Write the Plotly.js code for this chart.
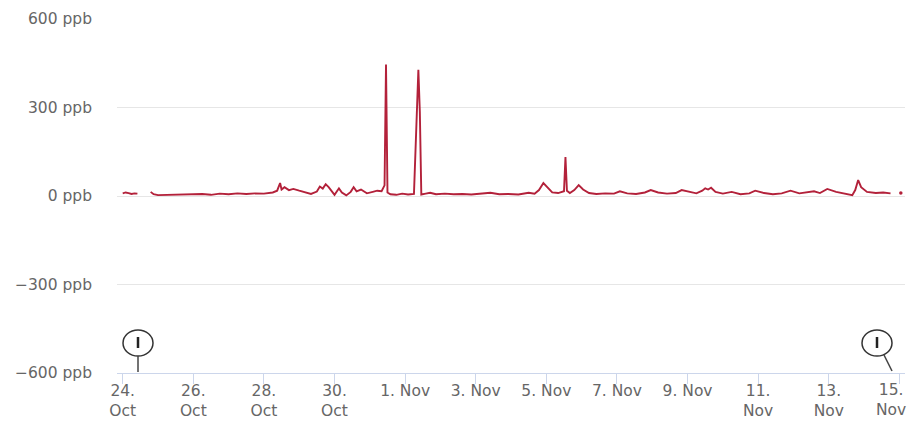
<!DOCTYPE html>
<html>
<head>
<meta charset="utf-8">
<script src="https://cdn.plot.ly/plotly-3.0.1.min.js"></script>
<style>html,body{margin:0;padding:0;background:#fff;}#chart{width:910px;height:421px;}</style>
</head>
<body>
<div id="chart"></div>
<script>
const times = [
"2018-10-24 00:00","2018-10-24 02:00","2018-10-24 04:00","2018-10-24 06:00","2018-10-24 08:00","2018-10-24 10:00",
"2018-10-24 14:00",
"2018-10-24 19:00","2018-10-24 21:00","2018-10-25 00:00","2018-10-25 06:00","2018-10-25 12:00","2018-10-25 18:00",
"2018-10-26 00:00","2018-10-26 06:00","2018-10-26 12:00","2018-10-26 18:00",
"2018-10-27 00:00","2018-10-27 06:00","2018-10-27 12:00","2018-10-27 18:00",
"2018-10-28 00:00","2018-10-28 06:00","2018-10-28 09:00","2018-10-28 11:00","2018-10-28 12:00","2018-10-28 14:00","2018-10-28 17:00","2018-10-28 20:00",
"2018-10-29 00:00","2018-10-29 04:00","2018-10-29 08:00","2018-10-29 12:00","2018-10-29 14:00","2018-10-29 16:00","2018-10-29 18:00","2018-10-29 20:00","2018-10-29 22:00",
"2018-10-30 00:00","2018-10-30 03:00","2018-10-30 05:00","2018-10-30 08:00","2018-10-30 11:00","2018-10-30 13:00","2018-10-30 15:00","2018-10-30 18:00","2018-10-30 22:00",
"2018-10-31 02:00","2018-10-31 05:00","2018-10-31 08:00","2018-10-31 10:00","2018-10-31 11:00","2018-10-31 12:00","2018-10-31 14:00","2018-10-31 18:00","2018-10-31 22:00",
"2018-11-01 02:00","2018-11-01 06:00","2018-11-01 09:00","2018-11-01 10:00","2018-11-01 11:00","2018-11-01 14:00","2018-11-01 17:00","2018-11-01 21:00",
"2018-11-02 03:00","2018-11-02 09:00","2018-11-02 15:00","2018-11-02 21:00",
"2018-11-03 04:00","2018-11-03 10:00","2018-11-03 16:00","2018-11-03 22:00",
"2018-11-04 05:00","2018-11-04 12:00","2018-11-04 16:00","2018-11-04 19:00","2018-11-04 22:00",
"2018-11-05 01:00","2018-11-05 04:00","2018-11-05 08:00","2018-11-05 12:00","2018-11-05 13:00","2018-11-05 14:00","2018-11-05 16:00","2018-11-05 19:00","2018-11-05 22:00",
"2018-11-06 01:00","2018-11-06 05:00","2018-11-06 10:00","2018-11-06 16:00","2018-11-06 22:00",
"2018-11-07 02:00","2018-11-07 07:00","2018-11-07 13:00","2018-11-07 19:00","2018-11-07 23:00",
"2018-11-08 04:00","2018-11-08 10:00","2018-11-08 16:00","2018-11-08 20:00",
"2018-11-09 01:00","2018-11-09 06:00","2018-11-09 10:00","2018-11-09 12:00","2018-11-09 14:00","2018-11-09 16:00","2018-11-09 19:00",
"2018-11-10 00:00","2018-11-10 06:00","2018-11-10 12:00","2018-11-10 18:00","2018-11-10 22:00",
"2018-11-11 04:00","2018-11-11 10:00","2018-11-11 16:00","2018-11-11 22:00",
"2018-11-12 04:00","2018-11-12 09:00","2018-11-12 14:00","2018-11-12 18:00","2018-11-12 23:00",
"2018-11-13 05:00","2018-11-13 11:00","2018-11-13 16:00","2018-11-13 18:00","2018-11-13 20:00","2018-11-13 22:00",
"2018-11-14 02:00","2018-11-14 08:00","2018-11-14 13:00","2018-11-14 18:00"
];
const ppb = [
9,12,10,7,9,8,
null,
14,6,3,4,3,6,
5,7,4,8,
6,9,7,9,
8,12,18,44,22,30,20,24,
18,12,7,15,32,25,40,30,18,
4,26,12,2,14,30,16,22,9,
14,18,16,36,446,12,6,4,8,
5,7,428,285,5,8,11,6,
8,6,7,5,
8,11,6,7,
5,11,8,20,44,
28,12,10,16,132,18,10,20,37,
22,10,7,9,8,
16,9,7,12,20,
12,8,10,20,
14,9,18,26,22,28,14,
8,14,6,9,18,
10,6,9,18,
9,12,16,10,24,
14,8,3,20,54,30,
14,10,12,9
];
const dotTimes = ["2018-11-15 01:00"];
const dotPpb = [10];

const yTickVals = [-600, -300, 0, 300, 600];
const yTickText = ["\u2212600 ppb", "\u2212300 ppb", "0 ppb", "300 ppb", "600 ppb"];
const xTickVals = ["2018-10-24","2018-10-26","2018-10-28","2018-10-30","2018-11-01","2018-11-03","2018-11-05","2018-11-07","2018-11-09","2018-11-11","2018-11-13","2018-11-15"];
const xTickText = ["24.<br>Oct","26.<br>Oct","28.<br>Oct","30.<br>Oct","1. Nov","3. Nov","5. Nov","7. Nov","9. Nov","11.<br>Nov","13.<br>Nov","15.<br>Nov"];

const L = 117, R = 905, T = 19, B = 373;
const px = x => (x - L) / (R - L);
const py = y => (B - y) / (B - T);

const handleColor = '#333333';
function handle(cx, cy, stem) {
  return [
    {type:'circle', xref:'paper', yref:'paper', x0:px(cx-15), x1:px(cx+15), y0:py(cy+13), y1:py(cy-13),
     line:{color:handleColor, width:1.5}, fillcolor:'#ffffff', layer:'above'},
    {type:'line', xref:'paper', yref:'paper', x0:px(cx), x1:px(cx), y0:py(cy+5), y1:py(cy-6),
     line:{color:'#222', width:2.5}, layer:'above'},
    {type:'line', xref:'paper', yref:'paper', x0:px(stem[0]), x1:px(stem[2]), y0:py(stem[1]), y1:py(stem[3]),
     line:{color:'#444', width:1.5}, layer:'above'}
  ];
}

const traces = [
  {x: times, y: ppb, type:'scatter', mode:'lines', connectgaps:false,
   line:{color:'#b3213a', width:1.9}, hoverinfo:'x+y'},
  {x: dotTimes, y: dotPpb, type:'scatter', mode:'markers',
   marker:{color:'#b3213a', size:3.5}, hoverinfo:'x+y'}
];

const font = {family:'"DejaVu Sans", sans-serif', size:15.5, color:'#666666'};

// last tick label sits at the right edge: draw it as an annotation nudged left so it stays inside
const lastIdx = xTickVals.length - 1;
const shownTickText = xTickText.map((t, i) => i === lastIdx ? '' : t);

const layout = {
  width:910, height:421,
  margin:{l:L, r:910-R, t:T, b:421-B, pad:0},
  paper_bgcolor:'#ffffff', plot_bgcolor:'#ffffff',
  showlegend:false,
  font: font,
  xaxis:{
    type:'date', range:['2018-10-23 20:07','2018-11-15 03:50'],
    tickmode:'array', tickvals:xTickVals, ticktext:shownTickText,
    showgrid:false, zeroline:false,
    showline:true, linecolor:'#ccd6eb', linewidth:1,
    ticks:'outside', ticklen:10, tickcolor:'#ccd6eb', tickwidth:1,
    ticklabelstandoff:-7,
    tickfont: font
  },
  yaxis:{
    range:[-600, 600], tickmode:'array', tickvals:yTickVals, ticktext:yTickText,
    showgrid:true, gridcolor:'#e6e6e6', gridwidth:1, zeroline:false, showline:false,
    ticks:'', ticklabelstandoff:24, tickfont: font
  },
  annotations:[{
    x: xTickVals[lastIdx], xref:'x', xanchor:'center', xshift:-8,
    y: py(400), yref:'paper', yanchor:'middle',
    text: xTickText[lastIdx], showarrow:false, align:'center', font: font
  }],
  shapes: [].concat(handle(138, 343, [138, 356, 138, 372]), handle(877, 343, [884, 355, 892, 371]))
};

Plotly.newPlot('chart', traces, layout, {displayModeBar:false, staticPlot:true});
</script>
</body>
</html>
